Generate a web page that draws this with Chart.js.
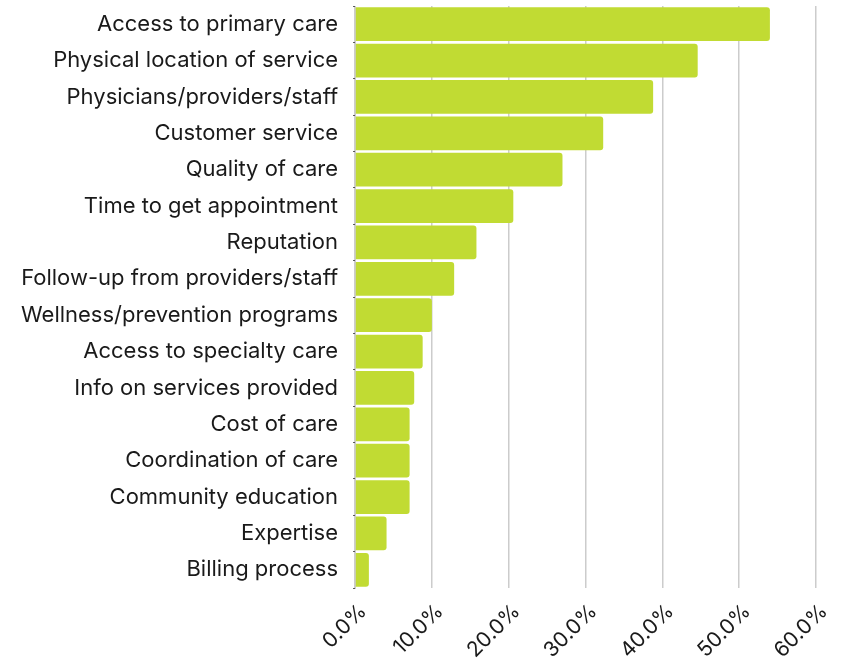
<!DOCTYPE html>
<html>
<head>
<meta charset="utf-8">
<script src="https://cdn.jsdelivr.net/npm/chart.js@4"></script>
<style>
  html, body { margin: 0; padding: 0; background: #fff; }
  #wrap { width: 845px; height: 660px; position: relative; }
</style>
</head>
<body>
<div id="wrap"><canvas id="chart"></canvas></div>
<script>
// categories, top to bottom
const categories = [
  "Access to primary care",
  "Physical location of service",
  "Physicians/providers/staff",
  "Customer service",
  "Quality of care",
  "Time to get appointment",
  "Reputation",
  "Follow-up from providers/staff",
  "Wellness/prevention programs",
  "Access to specialty care",
  "Info on services provided",
  "Cost of care",
  "Coordination of care",
  "Community education",
  "Expertise",
  "Billing process"
];

// share of respondents, in percent
const shares = [54.0, 44.6, 38.8, 32.3, 27.0, 20.6, 15.8, 12.9, 10.0, 8.8, 7.7, 7.1, 7.1, 7.1, 4.1, 1.8];

const xMax = 60;
const xStep = 10;

const FONT = "Inter, 'DejaVu Sans', sans-serif";

new Chart(document.getElementById("chart"), {
  type: "bar",
  data: {
    labels: categories,
    datasets: [{
      data: shares,
      backgroundColor: "#c1db33",
      borderRadius: 3,
      borderSkipped: "start",
      barPercentage: 0.93,
      categoryPercentage: 1
    }]
  },
  options: {
    indexAxis: "y",
    responsive: true,
    maintainAspectRatio: false,
    animation: false,
    layout: { padding: { top: 6, right: 29, left: 6, bottom: 0 } },
    plugins: {
      legend: { display: false },
      tooltip: { enabled: false }
    },
    scales: {
      x: {
        min: 0,
        max: xMax,
        ticks: {
          stepSize: xStep,
          minRotation: 45,
          maxRotation: 45,
          color: "#1a1a1a",
          font: { family: FONT, size: 21 },
          padding: 11,
          labelOffset: 8,
          callback: v => v.toFixed(1) + "%"
        },
        grid: {
          color: "#cccccc",
          lineWidth: 1.5,
          drawTicks: false
        },
        border: { display: false },
        // fixed band for the slanted percent labels, side room set by layout padding
        afterFit: scale => {
          scale.height = 72;
          scale.paddingLeft = 0;
          scale.paddingRight = 0;
        }
      },
      y: {
        ticks: {
          color: "#1a1a1a",
          font: { family: FONT, size: 22 },
          padding: 15
        },
        grid: {
          offset: true,
          drawOnChartArea: false,
          drawTicks: true,
          tickLength: 2,
          color: "#555"
        },
        border: { display: true, color: "#cccccc", width: 1 },
        // labels sit in the middle of each band, no extra room above/below needed
        afterFit: scale => {
          scale.paddingTop = 0;
          scale.paddingBottom = 0;
        }
      }
    }
  }
});
</script>
</body>
</html>
